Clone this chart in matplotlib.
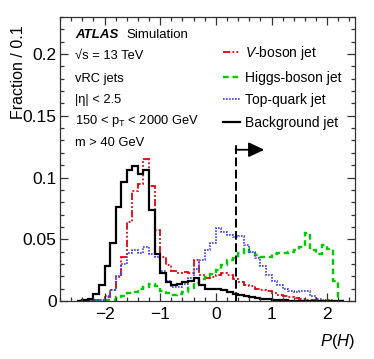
import numpy as np
import matplotlib
matplotlib.use("Agg")
import matplotlib.pyplot as plt
from matplotlib.lines import Line2D
from matplotlib.ticker import MultipleLocator

plt.rcParams['font.family'] = ['Liberation Sans', 'DejaVu Sans']
plt.rcParams['mathtext.fontset'] = 'custom'
plt.rcParams['mathtext.rm'] = 'Liberation Sans'
plt.rcParams['mathtext.it'] = 'Liberation Sans:italic'

# ---- data: bin edges of width 0.1 from -2.5 to 2.3 ----
bin_start = -2.5
bin_width = 0.1
background = [0.0003, 0.001, 0.002, 0.0054, 0.013, 0.0286, 0.047, 0.076, 0.096, 0.106,
              0.109, 0.103, 0.106, 0.074, 0.038, 0.023, 0.015, 0.013, 0.0135, 0.015,
              0.016, 0.019, 0.013, 0.0098, 0.0097, 0.0095, 0.0088, 0.0072, 0.006, 0.0048,
              0.0038, 0.003, 0.0023, 0.0017, 0.0013, 0.001, 0.0008, 0.0006, 0.0004, 0.0003,
              0.0002, 0.0001, 0.0001, 0.0001, 0.0001, 0.0, 0.0, 0.0]
vboson = [0.0, 0.0, 0.0002, 0.0005, 0.001, 0.0035, 0.009, 0.0197, 0.036, 0.064,
          0.0887, 0.095, 0.115, 0.093, 0.0576, 0.036, 0.029, 0.024, 0.0224, 0.0238,
          0.023, 0.033, 0.021, 0.0184, 0.0197, 0.021, 0.0224, 0.021, 0.018, 0.0157,
          0.013, 0.012, 0.0097, 0.009, 0.0084, 0.0068, 0.0049, 0.004, 0.003, 0.0022,
          0.0014, 0.001, 0.0005, 0.0003, 0.0001, 0.0, 0.0, 0.0]
higgs = [0.0, 0.0, 0.0, 0.0, 0.0002, 0.0005, 0.001, 0.0035, 0.004, 0.0062,
         0.0076, 0.0095, 0.0116, 0.014, 0.012, 0.0085, 0.0062, 0.005, 0.0057, 0.0076,
         0.0103, 0.0146, 0.018, 0.0197, 0.0222, 0.0255, 0.029, 0.033, 0.0345, 0.0386,
         0.042, 0.040, 0.037, 0.0355, 0.036, 0.038, 0.0385, 0.039, 0.040, 0.0415,
         0.044, 0.055, 0.041, 0.038, 0.045, 0.042, 0.016, 0.0]
top = [0.0, 0.0, 0.0002, 0.0005, 0.001, 0.004, 0.009, 0.02, 0.03, 0.039,
       0.041, 0.039, 0.044, 0.038, 0.036, 0.024, 0.016, 0.011, 0.011, 0.014,
       0.019, 0.026, 0.033, 0.041, 0.047, 0.059, 0.056, 0.0535, 0.052, 0.053,
       0.045, 0.040, 0.0346, 0.028, 0.021, 0.016, 0.013, 0.0097, 0.0078, 0.007,
       0.0078, 0.0078, 0.0038, 0.0018, 0.001, 0.0005, 0.0, 0.0]
labels = [r'$\mathit{V}$-boson jet', 'Higgs-boson jet', 'Top-quark jet', 'Background jet']
cut_value = 0.354
cut_top = 0.1265
arrow_end = 0.87
arrow_y = 0.1225
info_lines = ['\u221as = 13 TeV', 'vRC jets',
              '|\u03b7| < 2.5', r'150 < p$_\mathregular{T}$ < 2000 GeV', 'm > 40 GeV']

edges = bin_start + bin_width * np.arange(len(background) + 1)

fig = plt.figure(figsize=(3.74, 3.59), dpi=100)
ax = fig.add_axes([60/374, 1 - 301/359, 295/374, 284/359])

styles = [
    dict(color='#e8000b', lw=1.3, ls=(0, (4, 1.2, 1, 1.2, 1, 1.2))),
    dict(color='#00cc00', lw=1.7, ls=(0, (2.4, 1.6))),
    dict(color='#3b3bff', lw=1.2, ls=(0, (1, 0.8))),
    dict(color='black', lw=1.6, ls='-'),
]
for vals, st in zip([vboson, higgs, top, background], styles):
    ax.stairs(vals, edges, color=st['color'], lw=st['lw'], linestyle=st['ls'],
              baseline=None)

# cut line and arrow
ax.plot([cut_value, cut_value], [0, cut_top], color='black', lw=1.4,
        linestyle=(0, (4.5, 1.8)))
ax.annotate('', xy=(arrow_end, arrow_y), xytext=(cut_value, arrow_y),
            arrowprops=dict(arrowstyle='-|>,head_length=0.95,head_width=0.45',
                            color='black', lw=1.3, shrinkA=0, shrinkB=0,
                            mutation_scale=10))

ax.set_xlim(-2.8, 2.5)
ax.set_ylim(0, 0.23)

ax.xaxis.set_major_locator(MultipleLocator(1))
ax.xaxis.set_minor_locator(MultipleLocator(0.2))
ax.yaxis.set_major_locator(MultipleLocator(0.05))
ax.yaxis.set_minor_locator(MultipleLocator(0.01))
ax.tick_params(which='both', direction='in', top=True, right=True, colors='#333333',
               labelcolor='black', labelsize=12.5)
ax.tick_params(which='major', length=6, width=0.9)
ax.tick_params(which='minor', length=3, width=0.9)
ax.tick_params(axis='y', pad=2.5)
ax.tick_params(axis='x', pad=4)
ax.set_yticks([0, 0.05, 0.1, 0.15, 0.2])
ax.set_yticklabels(['0', '0.05', '0.1', '0.15', '0.2'])
ax.set_xticks([-2, -1, 0, 1, 2])
ax.set_xticklabels(['\u22122', '\u22121', '0', '1', '2'])
for sp in ax.spines.values():
    sp.set_color('#333333')
    sp.set_linewidth(0.9)

ax.set_ylabel('Fraction / 0.1', fontsize=11.5, loc='top')
ax.yaxis.set_label_coords(-0.115, 0.972)
ax.set_xlabel('$P(H)$', fontsize=12, loc='right')
ax.xaxis.set_label_coords(1.0, -0.11)

# ATLAS label and info text
ax.text(0.051, (301 - 35) / 284, 'ATLAS', transform=ax.transAxes, fontsize=9.5,
        fontweight='bold', fontstyle='italic', va='center', ha='left')
ax.text(0.226, (301 - 35) / 284, 'Simulation', transform=ax.transAxes, fontsize=9.5,
        va='center', ha='left')
ys = [56, 79, 100, 121, 143]
for line, yp in zip(info_lines, ys):
    ax.text(0.051, (301 - yp) / 284, line, transform=ax.transAxes, fontsize=9.3,
            va='center', ha='left')

handles = [Line2D([], [], color=st['color'], lw=st['lw'], linestyle=st['ls'])
           for st in styles]
ax.legend(handles, labels, loc='upper left', bbox_to_anchor=((223 - 60) / 295, (301 - 44) / 284),
          frameon=False, fontsize=10, handlelength=1.25, handletextpad=0.35,
          labelspacing=0.62, borderpad=0, borderaxespad=0)

fig.savefig('out.png', dpi=100)
